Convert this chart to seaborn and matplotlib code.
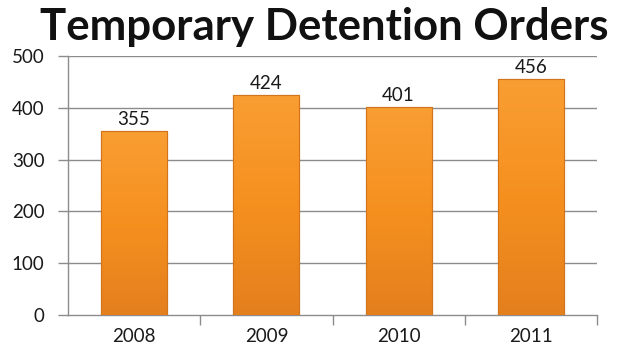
import matplotlib
matplotlib.use("Agg")
import matplotlib.pyplot as plt
import seaborn as sns
import numpy as np
import pandas as pd
from matplotlib.colors import LinearSegmentedColormap

years = ["2008", "2009", "2010", "2011"]
orders = [355, 424, 401, 456]
yticks = [0, 100, 200, 300, 400, 500]

sns.set_theme(style="white")
plt.rcParams['font.family'] = ['Lato', 'DejaVu Sans']

df = pd.DataFrame({"year": years, "orders": orders})

fig = plt.figure(figsize=(6.18, 3.54), dpi=100)
ax = fig.add_axes([68/618, 1 - 315/354, (597-68)/618, (315-56)/354])

sns.barplot(data=df, x="year", y="orders", color="#F7941E", width=0.5,
            saturation=1, ax=ax, zorder=3, edgecolor="#D9771A", linewidth=0.8)

# vertical gradient on each bar
cmap = LinearSegmentedColormap.from_list("og", ["#E47F1E", "#F5901F", "#F99E33"])
grad = np.linspace(0, 1, 256).reshape(-1, 1)
for p in ax.patches:
    x0, y0 = p.get_x(), p.get_y()
    w, h = p.get_width(), p.get_height()
    im = ax.imshow(grad, cmap=cmap, origin="lower", aspect="auto",
                   extent=[x0, x0 + w, y0, y0 + h], zorder=3.5)
    im.set_clip_path(p)
    ax.bar(x0 + w / 2, h, width=w, bottom=y0, fill=False,
           edgecolor="#D27419", linewidth=0.8, zorder=4)

ax.set_xlim(-0.5, len(years) - 0.5)
ax.set_ylim(0, 500)
ax.set_yticks(yticks)
ax.set_yticklabels([str(v) for v in yticks], fontsize=13.5, color="#1a1a1a")
ax.set_xticks(range(len(years)))
ax.set_xticklabels(years, fontsize=13.5, color="#1a1a1a")
ax.set_xlabel("")
ax.set_ylabel("")

for v in yticks[1:]:
    ax.axhline(v, color="#8c8c8c", linewidth=1.0, zorder=1)

for s in ["top", "right"]:
    ax.spines[s].set_visible(False)
for s in ["left", "bottom"]:
    ax.spines[s].set_color("#8c8c8c")
    ax.spines[s].set_linewidth(1.0)

ax.tick_params(axis="y", which="major", length=7, width=1.0, color="#8c8c8c",
               direction="out", pad=10, left=True)
ax.tick_params(axis="x", which="major", length=0, pad=9)
ax.set_xticks(np.arange(0.5, len(years), 1.0), minor=True)
ax.tick_params(axis="x", which="minor", length=7, width=1.0, color="#8c8c8c",
               direction="out", bottom=True)

for i, v in enumerate(orders):
    ax.text(i, v + 6, str(v), ha="center", va="bottom", fontsize=13.5,
            color="#1a1a1a", zorder=5)

fig.text(0.525, 1 - 27/354, "Temporary Detention Orders", ha="center", va="center",
         fontsize=31.5, fontweight="bold", color="#111111")

fig.savefig("out.png", dpi=100)
